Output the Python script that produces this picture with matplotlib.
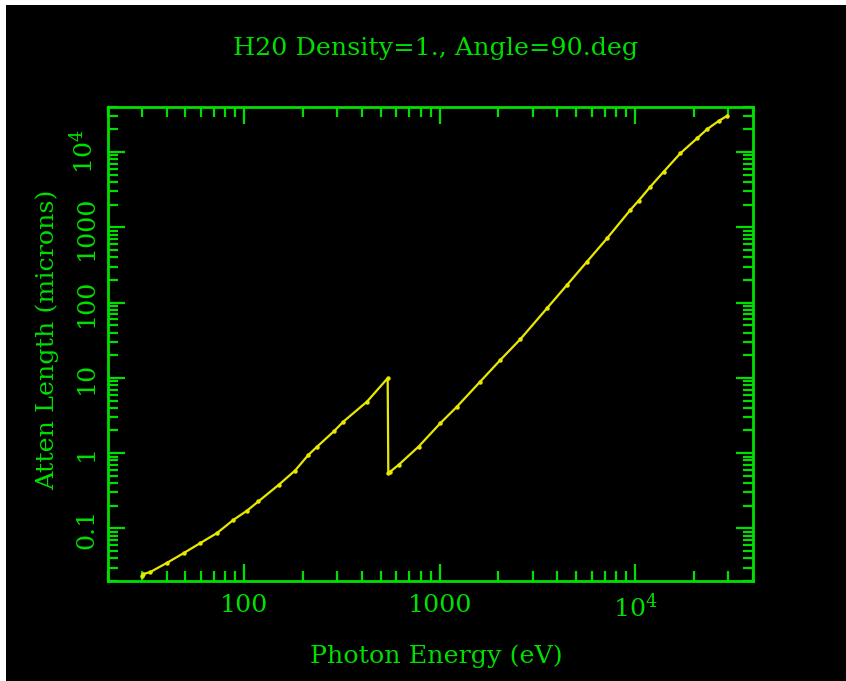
import matplotlib
matplotlib.use("Agg")
from matplotlib import pyplot as plt
from matplotlib.patches import Rectangle
from matplotlib.ticker import LogLocator, FixedLocator, FixedFormatter, NullFormatter

# Data: water, density 1, photon energy vs attenuation length
energy_ev = [30, 30.3, 33, 40, 49, 59.5, 72.5, 88, 103, 118, 150, 182, 213, 236,
             287, 322, 425, 542, 546, 560, 617, 780, 1008, 1228, 1614, 2045, 2590,
             3546, 4490, 5684, 7197, 9464, 10440, 11990, 14030, 17070, 20780,
             23380, 26800, 29700]
atten_um = [0.0235, 0.0247, 0.0263, 0.0346, 0.047, 0.0638, 0.0867, 0.13, 0.171,
            0.228, 0.379, 0.587, 0.949, 1.22, 1.94, 2.63, 4.84, 9.9, 0.55, 0.57,
            0.70, 1.22, 2.50, 4.16, 8.93, 17.3, 32.7, 84.3, 172, 351, 716, 1702,
            2265, 3472, 5496, 9640, 15240, 20090, 25900, 30400]

title = "H20 Density=1., Angle=90.deg"
x_label = "Photon Energy (eV)"
y_label = "Atten Length (microns)"
x_ticks = [100, 1000, 10000]
x_tick_labels = ["100", "1000", r"$\mathregular{10^4}$"]
y_ticks = [0.1, 1, 10, 100, 1000, 10000]
y_tick_labels = ["0.1", "1", "10", "100", "1000", r"$\mathregular{10^4}$"]

green = "#00e000"
yellow = "#e8e800"

plt.rcParams['font.family'] = ['DejaVu Serif']
plt.rcParams['mathtext.fontset'] = 'dejavuserif'
fs = 18.3

fig = plt.figure(figsize=(8.46, 6.81), dpi=100, facecolor="black")
# white strips on the top and left edge of the screenshot
fig.add_artist(Rectangle((0, 0), 6 / 846, 1, transform=fig.transFigure,
                         facecolor="white", edgecolor="none"))
fig.add_artist(Rectangle((0, 1 - 5 / 681), 1, 5 / 681, transform=fig.transFigure,
                         facecolor="white", edgecolor="none"))

ax = fig.add_axes([0.1273, 0.1468, 0.7624, 0.6965])
ax.set_facecolor("black")
ax.plot(energy_ev, atten_um, color=yellow, lw=1.6, marker="o", ms=2.2,
        mec=yellow, mfc=yellow)

ax.set_xscale("log")
ax.set_yscale("log")
ax.set_xlim(20, 40000)
ax.set_ylim(0.02, 40000)

for s in ax.spines.values():
    s.set_color(green)
    s.set_linewidth(2)

ax.xaxis.set_major_locator(FixedLocator(x_ticks))
ax.xaxis.set_major_formatter(FixedFormatter(x_tick_labels))
ax.yaxis.set_major_locator(FixedLocator(y_ticks))
ax.yaxis.set_major_formatter(FixedFormatter(y_tick_labels))
for a in (ax.xaxis, ax.yaxis):
    a.set_minor_locator(LogLocator(base=10, subs=range(2, 10), numticks=20))
    a.set_minor_formatter(NullFormatter())

ax.tick_params(which="both", direction="in", top=True, right=True,
               color=green, width=1.6, labelcolor=green, labelsize=fs)
ax.tick_params(which="major", length=12)
ax.tick_params(which="minor", length=7)
ax.tick_params(axis="x", pad=9)
ax.tick_params(axis="y", pad=7)
for lab in ax.get_yticklabels():
    lab.set_rotation(90)
    lab.set_va("center")

ax.set_xlabel(x_label, color=green, fontsize=fs, va="center")
ax.xaxis.set_label_coords(0.509, -0.158)
ax.set_ylabel(y_label, color=green, fontsize=fs, va="center")
ax.yaxis.set_label_coords(-0.094, 0.508)
ax.set_title(title, color=green, fontsize=fs, y=1.1217, va="center", pad=0)
ax.title.set_x(0.509)

fig.savefig("out.png", dpi=100, facecolor="black")
